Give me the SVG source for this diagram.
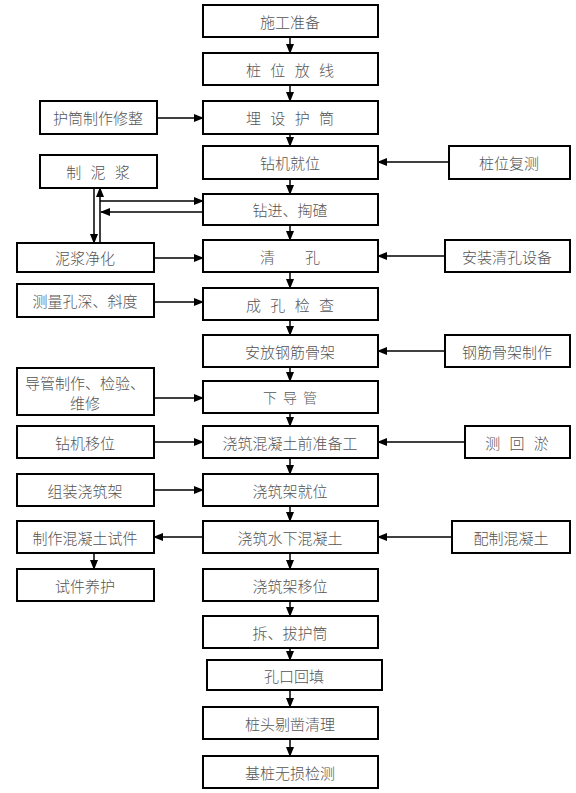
<svg xmlns="http://www.w3.org/2000/svg" width="576" height="793" viewBox="0 0 576 793">
<defs>
<marker id="ah" markerWidth="10" markerHeight="8" refX="9" refY="4" orient="auto" markerUnits="userSpaceOnUse">
<path d="M0,0 L10,4 L0,8 Z" fill="#000"/>
</marker>
<style>
rect{fill:#fff;stroke:#000;stroke-width:2}
text{font-family:"Noto Sans CJK SC","Noto Sans CJK JP",sans-serif;font-size:15px;font-weight:300;fill:#555;text-anchor:middle;dominant-baseline:central}
.sp{word-spacing:6px}
.sp2{word-spacing:3px}
#connectors line{stroke:#000;stroke-width:1.5;marker-end:url(#ah)}
#connectors line.n{marker-end:none}
</style>
</defs>
<rect x="0" y="0" width="576" height="793" style="stroke:none;fill:#fff"/>
<g id="n1"><rect x="203" y="5" width="175" height="32"/><text x="290" y="21">施工准备</text></g>
<g id="n2"><rect x="203" y="53" width="175" height="32"/><text x="290" y="69" class="sp">桩 位 放 线</text></g>
<g id="n3"><rect x="203" y="101" width="175" height="33"/><text x="290" y="117" class="sp">埋 设 护 筒</text></g>
<g id="n4"><rect x="203" y="146" width="175" height="33"/><text x="290" y="162">钻机就位</text></g>
<g id="n5"><rect x="203" y="194" width="175" height="31"/><text x="290" y="209">钻进、掏碴</text></g>
<g id="n6"><rect x="203" y="240" width="175" height="32"/><text x="290" y="256" xml:space="preserve">清　　孔</text></g>
<g id="n7"><rect x="203" y="288" width="175" height="32"/><text x="290" y="304" class="sp">成 孔 检 查</text></g>
<g id="n8"><rect x="203" y="335" width="175" height="32"/><text x="290" y="351">安放钢筋骨架</text></g>
<g id="n9"><rect x="203" y="381" width="175" height="32"/><text x="290" y="397" class="sp2" style="font-size:14px">下 导 管</text></g>
<g id="n10"><rect x="203" y="426" width="175" height="32"/><text x="290" y="442">浇筑混凝土前准备工</text></g>
<g id="n11"><rect x="203" y="474" width="175" height="32"/><text x="290" y="490">浇筑架就位</text></g>
<g id="n12"><rect x="203" y="521" width="175" height="32"/><text x="290" y="537">浇筑水下混凝土</text></g>
<g id="n13"><rect x="203" y="569" width="175" height="32"/><text x="290" y="585">浇筑架移位</text></g>
<g id="n14"><rect x="203" y="616" width="175" height="32"/><text x="290" y="632">拆、拔护筒</text></g>
<g id="n15"><rect x="207" y="660" width="175" height="30"/><text x="294" y="675">孔口回填</text></g>
<g id="n16"><rect x="203" y="707" width="175" height="32"/><text x="290" y="723">桩头剔凿清理</text></g>
<g id="n17"><rect x="203" y="756" width="175" height="32"/><text x="290" y="772">基桩无损检测</text></g>

<g id="l1"><rect x="40" y="101" width="117" height="33"/><text x="98" y="117">护筒制作修整</text></g>
<g id="l2"><rect x="40" y="155" width="117" height="33"/><text x="98" y="171" class="sp">制 泥 浆</text></g>
<g id="l3"><rect x="17" y="243" width="137" height="29"/><text x="85" y="257">泥浆净化</text></g>
<g id="l4"><rect x="17" y="284" width="137" height="33"/><text x="85" y="300">测量孔深、斜度</text></g>
<g id="l5"><rect x="17" y="368" width="137" height="47"/><text x="85" y="382">导管制作、检验、</text><text x="85" y="402">维修</text></g>
<g id="l6"><rect x="17" y="426" width="137" height="32"/><text x="85" y="442">钻机移位</text></g>
<g id="l7"><rect x="17" y="474" width="137" height="32"/><text x="85" y="490">组装浇筑架</text></g>
<g id="l8"><rect x="17" y="521" width="137" height="32"/><text x="85" y="537">制作混凝土试件</text></g>
<g id="l9"><rect x="17" y="569" width="137" height="32"/><text x="85" y="585">试件养护</text></g>

<g id="r1"><rect x="449" y="146" width="121" height="33"/><text x="509" y="162">桩位复测</text></g>
<g id="r2"><rect x="445" y="240" width="125" height="32"/><text x="507" y="256">安装清孔设备</text></g>
<g id="r3"><rect x="445" y="335" width="125" height="32"/><text x="507" y="351">钢筋骨架制作</text></g>
<g id="r4"><rect x="465" y="426" width="105" height="32"/><text x="517" y="442" class="sp">测 回 淤</text></g>
<g id="r5"><rect x="452" y="521" width="118" height="32"/><text x="511" y="537">配制混凝土</text></g>

<g id="connectors">
<line x1="290" y1="37" x2="290" y2="53"/>
<line x1="290" y1="85" x2="290" y2="101"/>
<line x1="290" y1="134" x2="290" y2="146"/>
<line x1="290" y1="179" x2="290" y2="194"/>
<line x1="290" y1="225" x2="290" y2="240"/>
<line x1="290" y1="272" x2="290" y2="288"/>
<line x1="290" y1="320" x2="290" y2="335"/>
<line x1="290" y1="367" x2="290" y2="381"/>
<line x1="290" y1="413" x2="290" y2="426"/>
<line x1="290" y1="458" x2="290" y2="474"/>
<line x1="290" y1="506" x2="290" y2="521"/>
<line x1="290" y1="553" x2="290" y2="569"/>
<line x1="290" y1="601" x2="290" y2="616"/>
<line x1="290" y1="648" x2="290" y2="660"/>
<line x1="290" y1="690" x2="290" y2="707"/>
<line x1="290" y1="739" x2="290" y2="756"/>
<line x1="157" y1="118" x2="203" y2="118"/>
<line x1="449" y1="162" x2="378" y2="162"/>
<line x1="94" y1="188" x2="94" y2="243"/>
<line x1="100" y1="243" x2="100" y2="188"/>
<line x1="100" y1="201" x2="203" y2="201"/>
<line x1="203" y1="212" x2="101" y2="212"/>
<line x1="154" y1="258" x2="203" y2="258"/>
<line x1="445" y1="256" x2="378" y2="256"/>
<line x1="154" y1="302" x2="203" y2="302"/>
<line x1="445" y1="351" x2="378" y2="351"/>
<line x1="154" y1="398" x2="203" y2="398"/>
<line x1="154" y1="442" x2="203" y2="442"/>
<line x1="465" y1="442" x2="378" y2="442"/>
<line x1="154" y1="490" x2="203" y2="490"/>
<line x1="203" y1="537" x2="154" y2="537"/>
<line x1="452" y1="537" x2="378" y2="537"/>
<line x1="94" y1="553" x2="94" y2="569"/>
</g>
</svg>
